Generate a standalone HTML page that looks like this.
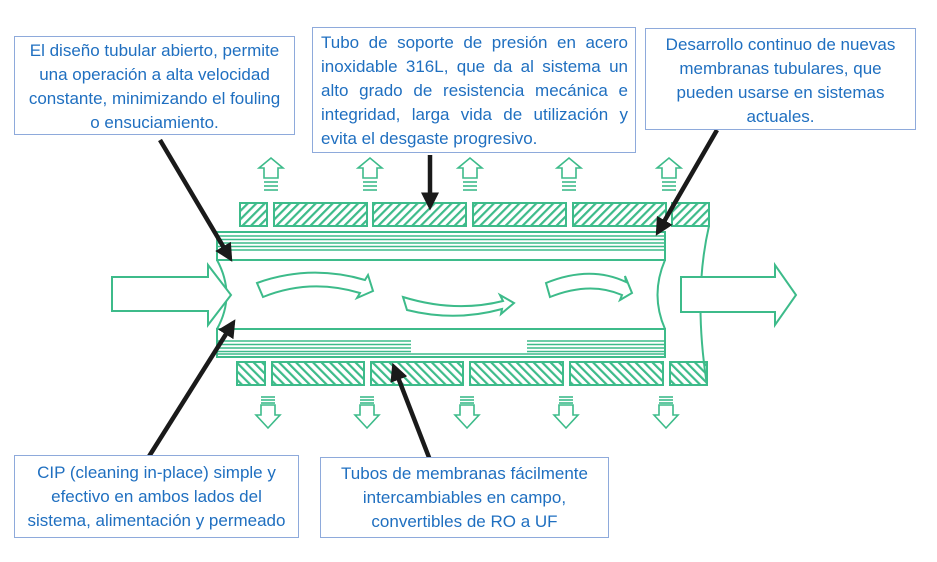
<!DOCTYPE html>
<html><head><meta charset="utf-8"><style>
body{margin:0;width:937px;height:562px;background:#fff;position:relative;overflow:hidden;font-family:"Liberation Sans",sans-serif;}
.b{position:absolute;border:1px solid #8eaadb;background:#fff;color:#1f6fc0;font-size:17px;line-height:24px;box-sizing:border-box;}
.c{text-align:center;white-space:nowrap;}
.j div{text-align:justify;text-align-last:justify;white-space:nowrap;}
.j div.l{text-align-last:left;}
svg{position:absolute;left:0;top:0;}
</style></head><body>
<svg width="937" height="562" viewBox="0 0 937 562">
<defs>
<pattern id="h1" width="6" height="6" patternUnits="userSpaceOnUse" patternTransform="rotate(45)"><line x1="1" y1="0" x2="1" y2="6" stroke="#3dbb8a" stroke-width="2.4"/></pattern>
<pattern id="h2" width="6" height="6" patternUnits="userSpaceOnUse" patternTransform="rotate(-45)"><line x1="1" y1="0" x2="1" y2="6" stroke="#3dbb8a" stroke-width="2.4"/></pattern>
<marker id="ah" markerWidth="4" markerHeight="4" refX="3" refY="2" orient="auto" markerUnits="strokeWidth"><path d="M0,0 L4,2 L0,4 Z" fill="#1a1a1a"/></marker>
</defs>
<g fill="none" stroke="#3dbb8a" stroke-width="2">
<g fill="url(#h1)">
<rect x="240" y="203" width="27" height="23"/><rect x="274" y="203" width="93" height="23"/><rect x="373" y="203" width="93" height="23"/><rect x="473" y="203" width="93" height="23"/><rect x="573" y="203" width="93" height="23"/><rect x="672" y="203" width="37" height="23"/>
</g>
<g fill="url(#h2)">
<rect x="237" y="362" width="28" height="23"/><rect x="272" y="362" width="92" height="23"/><rect x="371" y="362" width="92" height="23"/><rect x="470" y="362" width="93" height="23"/><rect x="570" y="362" width="93" height="23"/><rect x="670" y="362" width="37" height="23"/>
</g>
<rect x="217" y="232" width="448" height="28"/>
<g stroke-width="1.6"><line x1="217" y1="236" x2="665" y2="236"/><line x1="217" y1="239.5" x2="665" y2="239.5"/><line x1="217" y1="243" x2="665" y2="243"/><line x1="217" y1="246.5" x2="665" y2="246.5"/><line x1="217" y1="250" x2="665" y2="250"/></g>
<rect x="217" y="329" width="448" height="28"/>
<g stroke-width="1.6">
<line x1="217" y1="341" x2="411" y2="341"/><line x1="217" y1="344.5" x2="411" y2="344.5"/><line x1="217" y1="348" x2="411" y2="348"/><line x1="217" y1="351.5" x2="411" y2="351.5"/><line x1="217" y1="354" x2="411" y2="354"/>
<line x1="527" y1="341" x2="665" y2="341"/><line x1="527" y1="344.5" x2="665" y2="344.5"/><line x1="527" y1="348" x2="665" y2="348"/><line x1="527" y1="351.5" x2="665" y2="351.5"/><line x1="527" y1="354" x2="665" y2="354"/>
<line x1="411" y1="354" x2="527" y2="354"/>
</g>
<path d="M217,260 Q236,295 217,329"/>
<path d="M665,260 Q650,295 665,329"/>
<path d="M709,226 Q693,295 707,385"/>
<path d="M112,277 H208 V265 L231,295 L208,325 V311 H112 Z" fill="#fff"/>
<path d="M681,277 H775 V265 L796,295 L775,325 V312 H681 Z" fill="#fff"/>
<path d="M257,283 Q310,264 365,280 L368,275 L373,291 L357,298 L360,293 Q310,278 263,297 Z" fill="#fff"/>
<path d="M403,297 Q455,313 503,301 L500,295 L514,303 L501,314 L502,309 Q455,322 407,310 Z" fill="#fff"/>
<path d="M546,283 Q590,265 626,282 L625,276 L632,293 L620,300 L622,295 Q590,281 550,297 Z" fill="#fff"/>
<g stroke-width="1.6">
<g id="up"><path d="M264,178 V168 H259 L271,158 L283,168 H278 V178 Z" fill="#fff"/><line x1="264" y1="182" x2="278" y2="182"/><line x1="264" y1="186" x2="278" y2="186"/><line x1="264" y1="190" x2="278" y2="190"/></g>
<use href="#up" x="99"/><use href="#up" x="199"/><use href="#up" x="298"/><use href="#up" x="398"/>
<g id="dn"><path d="M261,405 V415 H256 L268,428 L280,415 H275 V405 Z" fill="#fff"/><line x1="261" y1="397" x2="275" y2="397"/><line x1="261" y1="400" x2="275" y2="400"/><line x1="261" y1="403" x2="275" y2="403"/></g>
<use href="#dn" x="99"/><use href="#dn" x="199"/><use href="#dn" x="298"/><use href="#dn" x="398"/>
</g>
</g>
<g stroke="#1a1a1a" stroke-width="4.5" fill="none" marker-end="url(#ah)">
<line x1="160" y1="140" x2="230" y2="258"/>
<line x1="148" y1="458" x2="233" y2="323"/>
<line x1="430" y1="155" x2="430" y2="206"/>
<line x1="717" y1="130" x2="658" y2="232"/>
<line x1="430" y1="460" x2="394" y2="367"/>
</g>
</svg>
<div class="b c" style="left:14px;top:36px;width:281px;height:99px;padding-top:2px;">El diseño tubular abierto, permite<br>una operación a alta velocidad<br>constante, minimizando el fouling<br>o ensuciamiento.</div>
<div class="b j" style="left:312px;top:27px;width:324px;height:126px;padding:3px 7px 0 8px;">
<div>Tubo de soporte de presión en acero</div>
<div>inoxidable 316L, que da al sistema un</div>
<div>alto grado de resistencia mecánica e</div>
<div>integridad, larga vida de utilización y</div>
<div class="l">evita el desgaste progresivo.</div></div>
<div class="b c" style="left:645px;top:28px;width:271px;height:102px;padding-top:4px;">Desarrollo continuo de nuevas<br>membranas tubulares, que<br>pueden usarse en sistemas<br>actuales.</div>
<div class="b c" style="left:14px;top:455px;width:285px;height:83px;padding-top:5px;">CIP (cleaning in-place) simple y<br>efectivo en ambos lados del<br>sistema, alimentación y permeado</div>
<div class="b c" style="left:320px;top:457px;width:289px;height:81px;padding-top:4px;">Tubos de membranas fácilmente<br>intercambiables en campo,<br>convertibles de RO a UF</div>
</body></html>
